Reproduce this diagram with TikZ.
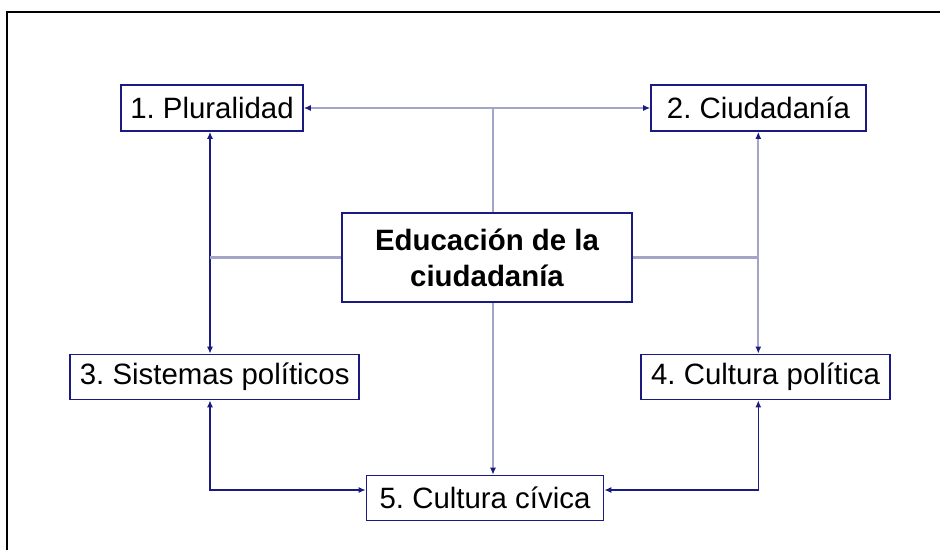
\documentclass[tikz,border=0pt]{standalone}
\usepackage{fontspec}
\setmainfont{Liberation Sans}
\usetikzlibrary{arrows.meta}
\definecolor{navy}{HTML}{1A1A80}
\definecolor{lightln}{HTML}{A4A4C6}
\frenchspacing
\begin{document}
\begin{tikzpicture}[x=1pt,y=-1pt,
  box/.style={draw=navy,line width=1.6pt,fill=white,inner sep=0pt,
    font=\fontsize{29.4}{36}\selectfont,align=center},
  dk/.style={draw=navy,line width=1.5pt},
  lt/.style={draw=lightln,line width=2.2pt},
  ahboth/.style={{Latex[length=7pt,width=6pt,color=navy]}-{Latex[length=7pt,width=6pt,color=navy]}},
  ahend/.style={-{Latex[length=7pt,width=6pt,color=navy]}},
  frameln/.style={draw=black,line width=2.6pt}
]
\useasboundingbox (0,0) rectangle (940,550);
\fill[white] (0,0) rectangle (940,550);
\draw[frameln] (7,550) -- (7,12) -- (940,12);

\node[box,minimum width=182pt,minimum height=46pt] (b1) at (212,108) {1. Pluralidad};
\node[box,minimum width=215pt,minimum height=46pt] (b2) at (758.5,108) {2. Ciudadanía};
\node[box,minimum width=290pt,minimum height=89pt,font=\fontsize{29.4}{36}\selectfont\bfseries] (c) at (487,257.5) {Educación de la\\ciudadanía};
\node[box,minimum width=289pt,minimum height=45pt] (b3) at (214.7,377) {3. Sistemas políticos};
\node[box,minimum width=249pt,minimum height=45pt] (b4) at (765.5,377) {4. Cultura política};
\node[box,minimum width=237pt,minimum height=45pt] (b5) at (485,498) {5. Cultura cívica};

\coordinate (tj) at (493,108);
\coordinate (lv) at (210,0);
\coordinate (rv) at (758.3,0);
\coordinate (hb) at (0,490);

% top
\draw[lt,ahboth] (b1.east) -- (b2.west);
\draw[lt] (tj) -- (tj |- c.north);
% left
\draw[dk,ahboth] (b1.south -| lv) -- (b3.north -| lv);
\draw[lt] (lv |- c.west) -- (c.west);
% right
\draw[lt,ahboth] (b2.south -| rv) -- (b4.north -| rv);
\draw[lt] (c.east) -- (c.east -| rv);
% center down
\draw[lt,ahend] (c.south -| tj) -- (b5.north -| tj);
% bottom
\draw[dk,ahboth] (b3.south -| lv) |- (b5.west |- hb);
\draw[dk,ahboth] (b4.south -| rv) |- (b5.east |- hb);
\end{tikzpicture}
\end{document}
